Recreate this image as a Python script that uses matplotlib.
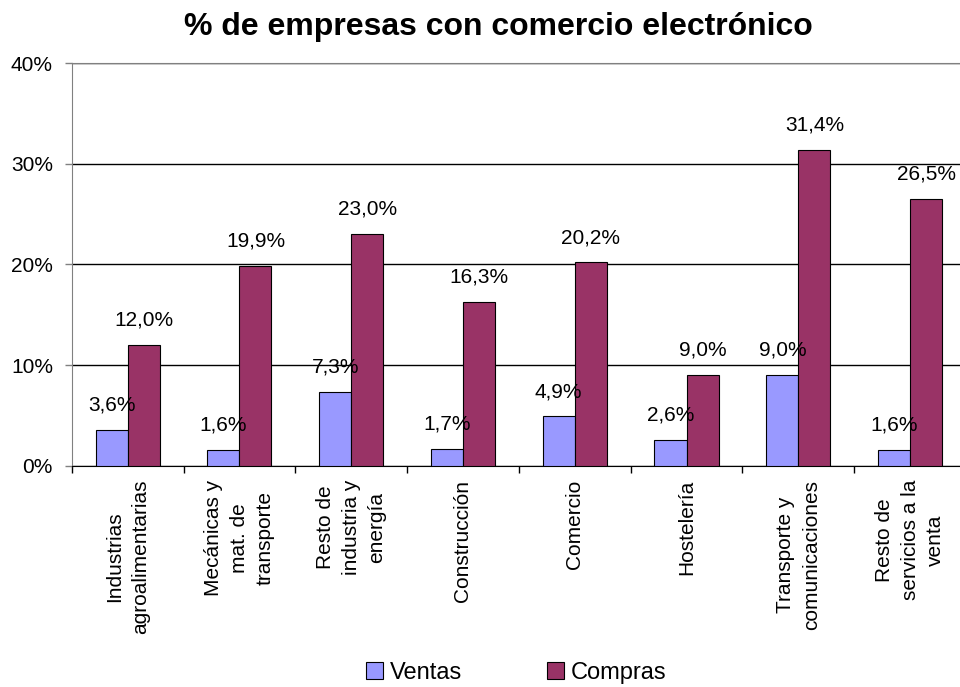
import numpy as np
import matplotlib
matplotlib.use("Agg")
import matplotlib.pyplot as plt

plt.rcParams["font.family"] = ["Liberation Sans", "DejaVu Sans"]

# Data
categorias = ["Industrias\nagroalimentarias", "Mecánicas y\nmat. de\ntransporte",
              "Resto de\nindustria y\nenergía", "Construcción", "Comercio",
              "Hostelería", "Transporte y\ncomunicaciones",
              "Resto de\nservicios a la\nventa"]
ventas = [3.6, 1.6, 7.3, 1.7, 4.9, 2.6, 9.0, 1.6]
compras = [12.0, 19.9, 23.0, 16.3, 20.2, 9.0, 31.4, 26.5]

fig = plt.figure(figsize=(9.6, 6.87), dpi=100)
ax = fig.add_axes([0.0747, 0.322, 0.9316, 0.586])

x = np.arange(len(categorias))
w = 0.287
b1 = ax.bar(x - w / 2, ventas, w, color="#9999FF", edgecolor="black",
            linewidth=0.8, label="Ventas", zorder=3)
b2 = ax.bar(x + w / 2, compras, w, color="#993366", edgecolor="black",
            linewidth=0.8, label="Compras", zorder=3)

# Data labels
for bars, vals in [(b1, ventas), (b2, compras)]:
    for r, v in zip(bars, vals):
        ax.annotate(f"{v:.1f}%".replace(".", ","),
                    (r.get_x() + r.get_width() / 2, v),
                    xytext=(0, 14), textcoords="offset points",
                    ha="center", va="baseline", fontsize=15, zorder=5)

ax.set_xlim(-0.5, len(categorias) - 0.5)
ax.set_ylim(0, 40)
ax.set_yticks([0, 10, 20, 30, 40])
ax.set_yticklabels(["0%", "10%", "20%", "30%", "40%"], fontsize=15)
ax.yaxis.grid(True, color="black", linewidth=1, zorder=0)
ax.tick_params(axis="y", length=5, width=1, color="gray", pad=8.5)

# Category ticks between groups, labels at centers
ax.set_xticks(np.arange(len(categorias) + 1) - 0.5)
ax.set_xticklabels([])
ax.set_xticks(x, minor=True)
ax.set_xticklabels(categorias, minor=True, rotation=90, fontsize=15,
                   va="top", ha="center", multialignment="center",
                   linespacing=1.45)
ax.tick_params(axis="x", which="major", length=5, width=1, color="black")
ax.tick_params(axis="x", which="minor", length=0, pad=10)

ax.spines["right"].set_visible(False)
ax.spines["top"].set_color("gray")
ax.spines["left"].set_color("gray")
ax.spines["bottom"].set_color("black")

fig.text(0.519, 0.961, "% de empresas con comercio electrónico", fontsize=23,
         fontweight="bold", ha="center", va="center")

fig.legend(handles=[b1, b2], loc="center", bbox_to_anchor=(0.538, 0.021),
           ncol=2, frameon=False, fontsize=17, handlelength=0.7,
           handleheight=0.7, handletextpad=0.3, columnspacing=3.6,
           borderpad=0.1)

fig.savefig("out.png", dpi=100)
